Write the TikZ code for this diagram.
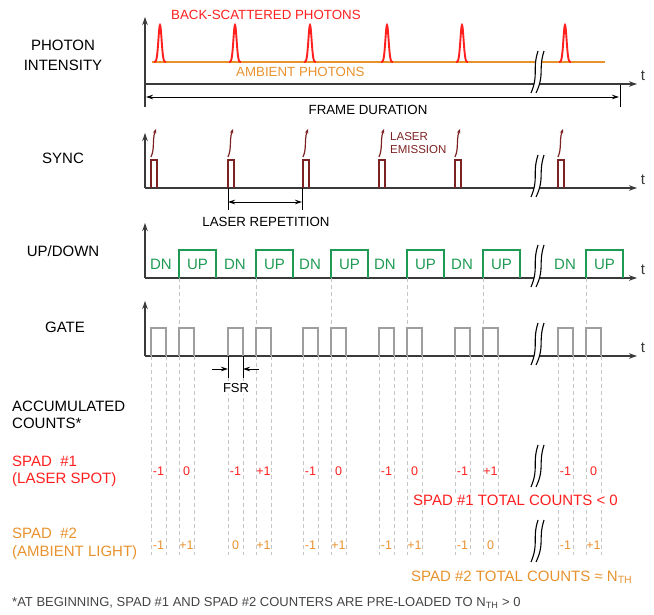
\documentclass[tikz,border=0pt]{standalone}
\usepackage{fontspec}
\setmainfont{Liberation Sans}
\usetikzlibrary{arrows.meta}
\definecolor{axisgray}{HTML}{3A3A3A}
\definecolor{spotred}{HTML}{FF1F1F}
\definecolor{ambient}{HTML}{E8922E}
\definecolor{laser}{HTML}{7D2222}
\definecolor{updn}{HTML}{1F9A52}
\definecolor{gategray}{HTML}{9E9E9E}
\definecolor{guide}{HTML}{C6C6C6}
\definecolor{note}{HTML}{444444}
\tikzset{
  % coordinates are pixels of the canvas, y pointing down
  axisline/.style={line width=1.2pt, axisgray, -{Stealth[length=8pt,width=5.5pt]}},
  spanarrow/.style={line width=0.8pt, black,
    {Stealth[length=7pt,width=4.5pt]}-{Stealth[length=7pt,width=4.5pt]}},
  tickarrow/.style={line width=0.8pt, black, -{Stealth[length=7pt,width=4.5pt]}},
  tickline/.style={line width=0.8pt, black},
  ambline/.style={line width=1.2pt, ambient},
  peak/.style={line width=1.9pt, spotred},
  laserpulse/.style={line width=1.2pt, laser},
  laserarrow/.style={line width=1.2pt, laser, -{Stealth[length=4.5pt,width=3.5pt]}},
  upbox/.style={line width=1.3pt, updn},
  gatepulse/.style={line width=1.3pt, gategray},
  guideline/.style={line width=0.8pt, guide, dash pattern=on 4pt off 3pt},
  brkline/.style={line width=1.1pt, black},
  lbl/.style={inner sep=0pt, font=\fontsize{15}{18}\selectfont, text=black},
  note/.style={inner sep=0pt, font=\fontsize{13.3}{16}\selectfont, text=#1},
  cnt/.style={inner sep=0pt, font=\fontsize{12.5}{14}\selectfont, text=#1},
  brk/.pic={
    \fill[white] (1,-21) .. controls (-5,-2) and (2,2) .. (-6,21)
      -- (-1,21) .. controls (8,2) and (1,-2) .. (7,-21) -- cycle;
    \draw[brkline] (1,-21) .. controls (-5,-2) and (2,2) .. (-6,21);
    \draw[brkline] (7,-21) .. controls (1,-2) and (8,2) .. (-1,21);
  }
}

\begin{document}
\begin{tikzpicture}[x=1pt,y=-1pt]
\useasboundingbox (0,0) rectangle (654,614);

\def\xO{145}
\def\xT{637}
\def\phY{84}
\def\syY{188}
\def\udY{278}
\def\gtY{356}
\def\cAY{471}
\def\cBY{545}

% Axes
\coordinate (phB) at (\xO,107); \coordinate (phU) at (\xO,17);
\coordinate (phO) at (\xO,\phY); \coordinate (phT) at (\xT,\phY);
\coordinate (syU) at (\xO,133);  \coordinate (syO) at (\xO,\syY); \coordinate (syT) at (\xT,\syY);
\coordinate (udU) at (\xO,223);  \coordinate (udO) at (\xO,\udY); \coordinate (udT) at (\xT,\udY);
\coordinate (gtU) at (\xO,301);  \coordinate (gtO) at (\xO,\gtY); \coordinate (gtT) at (\xT,\gtY);
\draw[axisline] (phB) -- (phU);
\draw[axisline] (phO) -- (phT);
\draw[axisline] (syO) -- (syU);
\draw[axisline] (syO) -- (syT);
\draw[axisline] (udO) -- (udU);
\draw[axisline] (udO) -- (udT);
\draw[axisline] (gtO) -- (gtU);
\draw[axisline] (gtO) -- (gtT);
\node[lbl, text=axisgray] (phTl) at (643,76)  {t};
\node[lbl, text=axisgray] (syTl) at (643,180) {t};
\node[lbl, text=axisgray] (udTl) at (643,270) {t};
\node[lbl, text=axisgray] (gtTl) at (643,348) {t};

% Photon intensity
\draw[ambline] (152,62) -- (605,62);
\foreach \c in {160,235,310,387,462,565}
  \draw[peak] plot[domain=-6:6, samples=49, smooth] ({\c+\x},{62-37*exp(-((\x)*(\x))/5)});
\node[note=spotred, anchor=west] (bsc) at (171,15) {BACK-SCATTERED PHOTONS};
\node[note=ambient, anchor=west] (amb) at (236,72) {AMBIENT PHOTONS};

% Frame duration
\coordinate (fdL) at (146,97); \coordinate (fdR) at (619,97);
\draw[spanarrow] (fdL) -- (fdR);
\draw[tickline] (620,85) -- (620,107);
\node[note=black] (fd) at (368,110) {FRAME DURATION};

% Guides (drawn first)
\foreach \p in {151,228,303,379,455,558} {
  \draw[guideline] (\p+28,\udY) -- (\p+28,328);
  \foreach \e in {0,15,28,43}
    \draw[guideline] (\p+\e,\gtY) -- (\p+\e,555);
}

% Sync, up/down and gate pulses
\foreach \p [count=\i] in {151,228,303,379,455,558} {
  \draw[laserpulse] (\p,\syY) |- (\p+6,160) -- (\p+6,\syY);
  \draw[laserarrow] (\p,157) .. controls (\p+4,148) and (\p+1,140) .. (\p+5,129);
  \draw[upbox] (\p+28,\udY) |- (\p+65,250) -- (\p+65,\udY);
  \node[lbl, text=updn] (up\i) at (\p+46.5,264) {UP};
  \draw[gatepulse] (\p,\gtY) |- (\p+15,328) -- (\p+15,\gtY);
  \draw[gatepulse] (\p+28,\gtY) |- (\p+43,328) -- (\p+43,\gtY);
}
\foreach \d [count=\i] in {161,235,310,385,462,565}
  \node[lbl, text=updn] (dn\i) at (\d,264) {DN};
\node[inner sep=0pt, font=\fontsize{11.5}{12.5}\selectfont, text=laser,
  align=left, anchor=west] (emis) at (390,143) {LASER\\EMISSION};

% Laser repetition
\coordinate (lrL) at (228,202); \coordinate (lrR) at (302,202);
\draw[tickline] (228,\syY) -- (228,210);
\draw[tickline] (302,\syY) -- (302,210);
\draw[spanarrow] (lrL) -- (lrR);
\node[note=black] (lrep) at (266,222) {LASER REPETITION};

% FSR
\coordinate (fsA) at (228,369); \coordinate (fsAl) at (212,369);
\coordinate (fsB) at (243,369); \coordinate (fsBr) at (259,369);
\draw[tickline] (228,\gtY) -- (228,378);
\draw[tickline] (243,\gtY) -- (243,378);
\draw[tickarrow] (fsAl) -- (fsA);
\draw[tickarrow] (fsBr) -- (fsB);
\node[note=black, fill=white, inner sep=1pt, font=\fontsize{13}{15}\selectfont] (fsr) at (236,388) {FSR};

% Accumulated counts
\foreach \p/\a/\b/\c/\d [count=\i] in {151/-1/0/-1/+1, 228/-1/+1/0/+1, 303/-1/0/-1/+1,
    379/-1/0/-1/+1, 455/-1/+1/-1/0, 558/-1/0/-1/+1} {
  \node[cnt=spotred] (sa\i) at (\p+7.5,\cAY)  {\a};
  \node[cnt=spotred] (sb\i) at (\p+35.5,\cAY) {\b};
  \node[cnt=ambient] (ta\i) at (\p+7.5,\cBY)  {\c};
  \node[cnt=ambient] (tb\i) at (\p+35.5,\cBY) {\d};
}

% Axis breaks
\foreach \y in {72,176,266,344,466,541}
  \pic at (537,\y) {brk};

% Row labels
\node[lbl, align=center, font=\fontsize{15}{20}\selectfont] (phL) at (63,55) {PHOTON\\INTENSITY};
\node[lbl] (syL) at (63,158) {SYNC};
\node[lbl] (udL) at (63,251) {UP/DOWN};
\node[lbl] (gtL) at (65,327) {GATE};
\node[lbl, align=left, anchor=west, font=\fontsize{15}{17}\selectfont] (acL) at (12,415) {ACCUMULATED\\COUNTS*};
\node[lbl, align=left, anchor=west, text=spotred, font=\fontsize{15}{17}\selectfont] (s1L) at (12,471) {SPAD\ \ \#1\\(LASER SPOT)};
\node[lbl, align=left, anchor=west, text=ambient, font=\fontsize{15}{18}\selectfont] (s2L) at (12,544) {SPAD\ \ \#2\\(AMBIENT LIGHT)};

% Totals and footnote
\node[lbl, anchor=west, text=spotred, fill=white, inner sep=1pt] (s1T) at (412,500) {SPAD \#1 TOTAL COUNTS < 0};
\node[lbl, anchor=west, text=ambient] (s2T) at (411,577) {SPAD \#2 TOTAL COUNTS ≈ N\textsubscript{TH}};
\node[lbl, anchor=west, text=note, font=\fontsize{13}{15}\selectfont] (fnote) at (12,603)
  {*AT BEGINNING, SPAD \#1 AND SPAD \#2 COUNTERS ARE PRE-LOADED TO N\textsubscript{TH} > 0};

\end{tikzpicture}
\end{document}
